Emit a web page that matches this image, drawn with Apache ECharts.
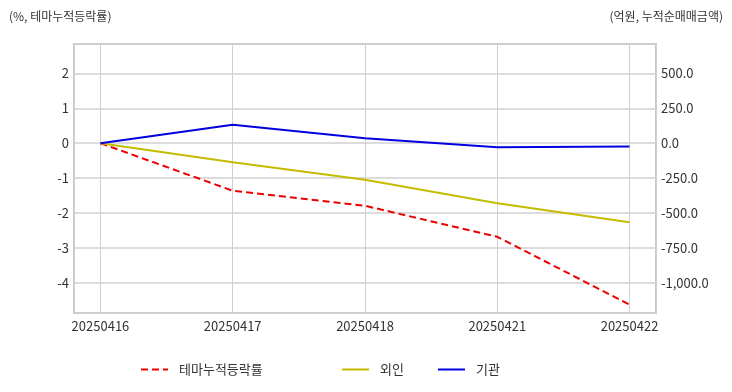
<!DOCTYPE html>
<html>
<head>
<meta charset="utf-8">
<script src="https://cdn.jsdelivr.net/npm/echarts@6/dist/echarts.min.js"></script>
<style>
html,body{margin:0;padding:0;background:#fff;}
#chart{width:732px;height:392px;}
</style>
</head>
<body>
<div id="chart"></div>
<script>
var categories = ['20250416', '20250417', '20250418', '20250421', '20250422'];
var themeRate = [0, -1.36, -1.79, -2.68, -4.62];      // % (left axis)
var foreign = [0, -136, -262, -430, -566];             // 억원 (right axis)
var institution = [0, 132, 36, -29, -24];              // 억원 (right axis)
var seriesNames = ['테마누적등락률', '외인', '기관'];
var leftTitle = '(%, 테마누적등락률)';
var rightTitle = '(억원, 누적순매매금액)';

var FONT = '"Noto Sans CJK KR", "Noto Sans", sans-serif';
function pts(arr) { return arr.map(function (v, i) { return [i, v]; }); }
function fmtRight(v) {
  return v.toLocaleString('en-US', { minimumFractionDigits: 1, maximumFractionDigits: 1 });
}
var legendBase = { top: 358, itemWidth: 27, itemHeight: 14, itemGap: 10,
  itemStyle: { opacity: 0 },
  textStyle: { fontSize: 13, color: '#333', fontFamily: FONT, padding: [0, 0, 0, 6] } };
function legendAt(name, left) {
  return Object.assign({}, legendBase, { data: [name], left: left });
}

var chart = echarts.init(document.getElementById('chart'), null, { renderer: 'canvas' });
chart.setOption({
  animation: false,
  backgroundColor: '#fff',
  textStyle: { fontFamily: FONT },
  title: [
    { text: leftTitle, left: 4, top: 5, textStyle: { fontSize: 12, fontWeight: 'normal', color: '#333', fontFamily: FONT } },
    { text: rightTitle, right: 4, top: 5, textStyle: { fontSize: 12, fontWeight: 'normal', color: '#333', fontFamily: FONT } }
  ],
  legend: [
    legendAt(seriesNames[0], 135),
    legendAt(seriesNames[1], 336),
    legendAt(seriesNames[2], 432)
  ],
  grid: { left: 74, right: 76, top: 44, bottom: 79, show: true, borderColor: '#c8c8c8', borderWidth: 2, containLabel: false },
  xAxis: {
    type: 'value', min: -0.2, max: 4.2, minInterval: 1, maxInterval: 1,
    axisLine: { show: false }, axisTick: { show: false },
    splitLine: { show: true, lineStyle: { color: '#d0d0d0', width: 1 } },
    axisLabel: {
      showMinLabel: false, showMaxLabel: false, margin: 7, fontSize: 13, color: '#333', fontFamily: FONT,
      formatter: function (v) { var i = Math.round(v); return (Math.abs(v - i) < 1e-6 && categories[i]) ? categories[i] : ''; }
    }
  },
  yAxis: [
    {
      type: 'value', min: -4.86, max: 2.84, minInterval: 1, maxInterval: 1,
      axisLine: { show: false }, axisTick: { show: false },
      splitLine: { show: true, lineStyle: { color: '#d0d0d0', width: 1.5 } },
      axisLabel: { showMinLabel: false, showMaxLabel: false, margin: 5, fontSize: 13, color: '#333', fontFamily: FONT }
    },
    {
      type: 'value', min: -1215, max: 710, minInterval: 250, maxInterval: 250,
      axisLine: { show: false }, axisTick: { show: false },
      splitLine: { show: false },
      axisLabel: { showMinLabel: false, showMaxLabel: false, margin: 5, fontSize: 13, color: '#333', fontFamily: FONT,
        formatter: fmtRight }
    }
  ],
  series: [
    { name: seriesNames[0], type: 'line', yAxisIndex: 0, data: pts(themeRate), symbol: 'none',
      lineStyle: { color: '#ee0000', width: 2, type: [7, 4] }, itemStyle: { color: '#ee0000' } },
    { name: seriesNames[1], type: 'line', yAxisIndex: 1, data: pts(foreign), symbol: 'none',
      lineStyle: { color: '#c4bc00', width: 2 }, itemStyle: { color: '#c4bc00' } },
    { name: seriesNames[2], type: 'line', yAxisIndex: 1, data: pts(institution), symbol: 'none',
      lineStyle: { color: '#0000e0', width: 2 }, itemStyle: { color: '#0000e0' } }
  ]
});
</script>
</body>
</html>
